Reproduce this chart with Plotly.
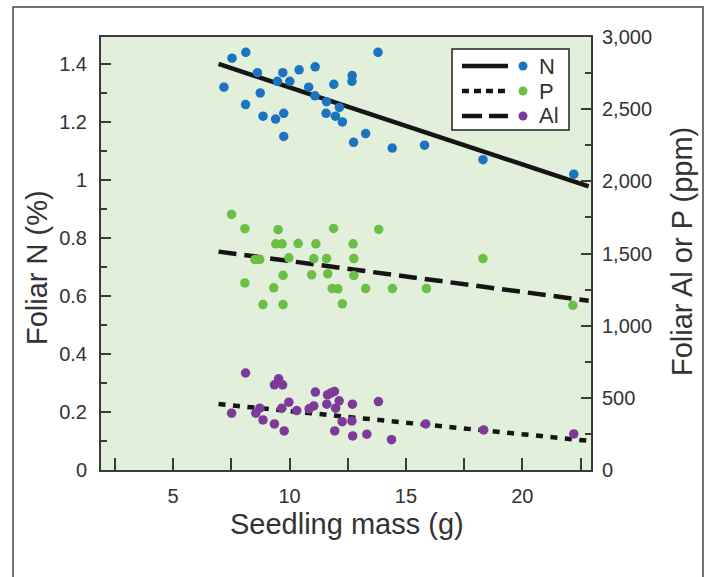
import plotly.graph_objects as go

# ---- data ----
mass_n = [7.18, 7.53, 8.12, 8.11, 8.62, 8.74, 8.86, 9.40, 9.48, 9.71, 9.75, 9.75, 10.01, 10.41,
          10.82, 11.10, 11.09, 11.59, 11.57, 11.90, 11.97, 12.14, 12.27, 12.69, 12.68, 12.75,
          13.27, 13.80, 14.41, 15.80, 18.31, 22.21]
n_pct = [1.32, 1.42, 1.44, 1.26, 1.37, 1.30, 1.22, 1.21, 1.34, 1.37, 1.23, 1.15, 1.34, 1.38,
         1.32, 1.39, 1.29, 1.27, 1.23, 1.33, 1.22, 1.25, 1.20, 1.36, 1.34, 1.13,
         1.16, 1.44, 1.11, 1.12, 1.07, 1.02]

mass_p = [7.51, 8.08, 8.08, 8.51, 8.72, 8.86, 9.32, 9.41, 9.51, 9.68, 9.72, 9.72, 9.97, 10.37,
          10.95, 11.04, 11.13, 11.59, 11.64, 11.83, 11.89, 12.08, 12.27, 12.73, 12.76, 12.76,
          13.27, 13.83, 14.42, 15.88, 18.31, 22.17]
p_ppm = [1771, 1672, 1296, 1458, 1458, 1146, 1262, 1567, 1665, 1567, 1349, 1146, 1470, 1569,
         1352, 1465, 1567, 1465, 1359, 1257, 1674, 1255, 1151, 1567, 1465, 1347,
         1257, 1667, 1257, 1257, 1465, 1141]

mass_al = [7.51, 8.11, 8.55, 8.72, 8.86, 9.35, 9.35, 9.53, 9.70, 9.67, 9.77, 9.97, 10.31, 10.84,
           11.04, 11.11, 11.63, 11.77, 11.93, 11.60, 11.98, 12.13, 12.26, 12.70, 12.68, 11.94,
           12.71, 13.32, 13.82, 14.38, 15.85, 18.34, 22.21]
al_ppm = [394, 672, 394, 428, 347, 319, 590, 632, 590, 428, 271, 470, 412, 424,
          444, 540, 521, 533, 544, 456, 428, 479, 335, 456, 340, 271,
          236, 248, 474, 210, 319, 278, 250]

fit_mass = [6.95, 22.85]
n_fit = [1.400, 0.978]
p_fit = [1513, 1173]
al_fit = [457, 202]

x_ticks = [2.5, 5, 7.5, 10, 12.5, 15, 17.5, 20, 22.5]
x_ticktext = ["", "5", "", "10", "", "15", "", "20", ""]
yl_ticks = [0, 0.2, 0.4, 0.6, 0.8, 1.0, 1.2, 1.4]
yl_ticktext = ["0", "0.2", "0.4", "0.6", "0.8", "1", "1.2", "1.4"]
yr_ticks = [0, 500, 1000, 1500, 2000, 2500, 3000]

legend_names = ["N", "P", "Al"]
legend_dash = ["solid", "7px,5px", "20px,7px"]

# ---- styles ----
BLUE = "#1c74c1"
GREEN = "#6bbf46"
PURPLE = "#7d3a98"
LINE = "#151515"
AXC = "#3a3a3a"
TXT = "#333333"
FONT = "Liberation Sans, Arial, Helvetica, sans-serif"
legend_colors = [BLUE, GREEN, PURPLE]

fig = go.Figure()

# fit lines
fig.add_trace(go.Scatter(x=fit_mass, y=n_fit, mode="lines", yaxis="y",
                         line=dict(color=LINE, width=4.5), showlegend=False, hoverinfo="skip"))
fig.add_trace(go.Scatter(x=fit_mass, y=p_fit, mode="lines", yaxis="y2",
                         line=dict(color=LINE, width=4.5, dash="18px,8px"), showlegend=False, hoverinfo="skip"))
fig.add_trace(go.Scatter(x=fit_mass, y=al_fit, mode="lines", yaxis="y2",
                         line=dict(color=LINE, width=4.5, dash="7px,7.5px"), showlegend=False, hoverinfo="skip"))

# points
fig.add_trace(go.Scatter(x=mass_n, y=n_pct, mode="markers", yaxis="y", name="N",
                         marker=dict(color=BLUE, size=9.5), showlegend=False))
fig.add_trace(go.Scatter(x=mass_p, y=p_ppm, mode="markers", yaxis="y2", name="P",
                         marker=dict(color=GREEN, size=9.5), showlegend=False))
fig.add_trace(go.Scatter(x=mass_al, y=al_ppm, mode="markers", yaxis="y2", name="Al",
                         marker=dict(color=PURPLE, size=9.5), showlegend=False))

# plot-area geometry (pixels) used for placing decorations
W, H = 710, 577
L, R, T, B = 101, 591, 37, 470


def px(xp):
    return (xp - L) / (R - L)


def py(yp):
    return (B - yp) / (B - T)


shapes = []
annotations = []

# outer frame
shapes.append(dict(type="rect", xref="paper", yref="paper",
                   x0=px(13), x1=px(703), y0=py(640), y1=py(7),
                   line=dict(color="#444444", width=1.5), fillcolor="rgba(0,0,0,0)", layer="below"))

# custom legend box
shapes.append(dict(type="rect", xref="paper", yref="paper",
                   x0=px(452), x1=px(569), y0=py(130), y1=py(49),
                   line=dict(color="#222222", width=1.5), fillcolor="white"))
for i, (nm, ds, col) in enumerate(zip(legend_names, legend_dash, legend_colors)):
    yc = 66 + 25 * i
    shapes.append(dict(type="line", xref="paper", yref="paper",
                       x0=px(462), x1=px(508), y0=py(yc), y1=py(yc),
                       line=dict(color=LINE, width=4.5, dash=ds)))
    r = 4.5
    shapes.append(dict(type="circle", xref="paper", yref="paper",
                       x0=px(523 - r), x1=px(523 + r), y0=py(yc + r), y1=py(yc - r),
                       line=dict(width=0), fillcolor=col))
    annotations.append(dict(text=nm, xref="paper", yref="paper", x=px(537), y=py(yc),
                            xanchor="left", yanchor="middle", showarrow=False,
                            font=dict(family=FONT, size=22, color=TXT)))

# axis titles
annotations.append(dict(text="Seedling mass (g)", xref="paper", yref="paper",
                        x=px(347), y=py(524), xanchor="center", yanchor="middle", showarrow=False,
                        font=dict(family=FONT, size=29, color=TXT)))
annotations.append(dict(text="Foliar N (%)", xref="paper", yref="paper",
                        x=px(37), y=py(268), xanchor="center", yanchor="middle", showarrow=False,
                        textangle=-90, font=dict(family=FONT, size=29, color=TXT)))
annotations.append(dict(text="Foliar Al or P (ppm)", xref="paper", yref="paper",
                        x=px(682), y=py(252), xanchor="center", yanchor="middle", showarrow=False,
                        textangle=-90, font=dict(family=FONT, size=29, color=TXT)))

tickfont = dict(family=FONT, size=20, color=TXT)

fig.update_layout(
    width=W, height=H,
    margin=dict(l=L, r=W - R, t=T, b=H - B, pad=0),
    paper_bgcolor="white",
    plot_bgcolor="#e2efda",
    showlegend=False,
    hovermode=False,
    shapes=shapes,
    annotations=annotations,
    xaxis=dict(range=[1.9, 22.95], tickvals=x_ticks, ticktext=x_ticktext,
               ticks="inside", ticklen=12, tickwidth=2, tickcolor=AXC,
               showline=True, linewidth=2, linecolor=AXC, mirror=True,
               showgrid=False, zeroline=False, tickfont=tickfont, ticklabelstandoff=7),
    yaxis=dict(range=[0, 1.493], tickvals=yl_ticks, ticktext=yl_ticktext,
               ticks="inside", ticklen=10, tickwidth=2, tickcolor=AXC,
               minor=dict(dtick=0.1, tick0=0, ticks="inside", ticklen=6, tickwidth=2, tickcolor=AXC),
               showline=True, linewidth=2, linecolor=AXC,
               showgrid=False, zeroline=False, tickfont=tickfont, ticklabelstandoff=8),
    yaxis2=dict(range=[0, 3000], tickvals=yr_ticks, tickformat=",", overlaying="y", side="right",
                ticks="inside", ticklen=10, tickwidth=2, tickcolor=AXC,
                minor=dict(dtick=250, tick0=0, ticks="inside", ticklen=6, tickwidth=2, tickcolor=AXC),
                showline=True, linewidth=2, linecolor=AXC,
                showgrid=False, zeroline=False, tickfont=tickfont, ticklabelstandoff=5),
)

fig.write_html("out.html", config={"displayModeBar": False},
               post_script="document.body.style.margin='0';")
